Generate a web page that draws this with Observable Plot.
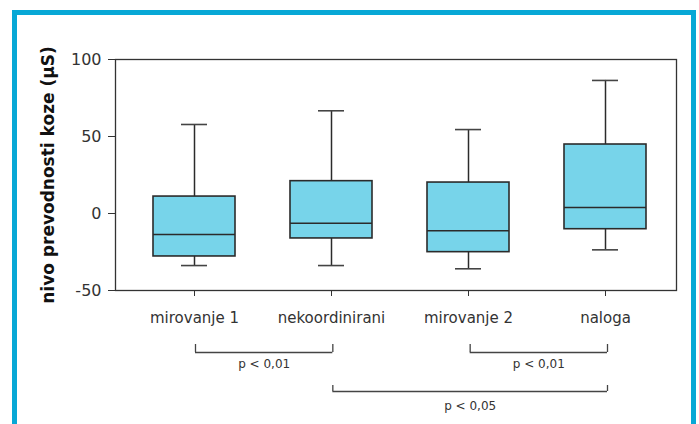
<!DOCTYPE html>
<html>
<head>
<meta charset="utf-8">
<script src="https://cdn.jsdelivr.net/npm/d3@7"></script>
<script src="https://cdn.jsdelivr.net/npm/@observablehq/plot@0.6"></script>
<style>
  html, body { margin: 0; padding: 0; background: #fff; overflow: hidden; }
  #wrap { position: relative; width: 699px; height: 424px; }
  #wrap svg { position: absolute; left: 0; top: 0; }
  #border { position: absolute; left: 12px; top: 10px; width: 684px; height: 430px;
            box-sizing: border-box; border: 5px solid #07a8d6; border-bottom: none; pointer-events: none; }
</style>
</head>
<body>
<div id="wrap"><div id="border"></div></div>
<script>
// ---- data ----
const categories = ["mirovanje 1", "nekoordinirani", "mirovanje 2", "naloga"];
const whiskerLow  = [-33.8, -33.8, -35.9, -23.6];
const quartile1   = [-27.9, -16.2, -25.1, -10.2];
const medians     = [-13.6, -6.3, -11.2, 3.9];
const quartile3   = [11.0, 21.0, 20.1, 44.8];
const whiskerHigh = [57.8, 66.7, 54.5, 86.4];
const yTicks = [-50, 0, 50, 100];
const yLabel = "nivo prevodnosti koze (μS)";

const cmpFrom  = ["mirovanje 1", "mirovanje 2", "nekoordinirani"];
const cmpTo    = ["nekoordinirani", "naloga", "naloga"];
const cmpText  = ["p < 0,01", "p < 0,01", "p < 0,05"];
const cmpRow   = [0, 0, 1];

// ---- tables ----
const boxes = categories.map((c, i) => ({
  cat: c, min: whiskerLow[i], q1: quartile1[i], med: medians[i], q3: quartile3[i], max: whiskerHigh[i]
}));
const idx = c => categories.indexOf(c);
const cmps = cmpFrom.map((f, i) => ({a: idx(f), b: idx(cmpTo[i]), label: cmpText[i], row: cmpRow[i]}));
const ends = cmps.flatMap(d => [{x: d.a, row: d.row}, {x: d.b, row: d.row}]);

const ink = "#2b2b2b";
const font = "DejaVu Sans";

const main = Plot.plot({
  width: 699, height: 424,
  marginLeft: 115, marginRight: 23, marginTop: 59, marginBottom: 134,
  style: {fontFamily: font, background: "transparent", overflow: "visible"},
  x: {domain: categories, range: [97.4, 701.6], padding: 0.4},
  y: {domain: [-50, 100]},
  marks: [
    Plot.frame({stroke: "#333", strokeWidth: 1.3}),
    Plot.ruleX(boxes, {x: "cat", y1: "min", y2: "q1", stroke: ink, strokeWidth: 1.5}),
    Plot.ruleX(boxes, {x: "cat", y1: "q3", y2: "max", stroke: ink, strokeWidth: 1.5}),
    Plot.tickY(boxes, {x: "cat", y: "min", insetLeft: 28, insetRight: 28, stroke: "#444", strokeWidth: 1.6}),
    Plot.tickY(boxes, {x: "cat", y: "max", insetLeft: 28, insetRight: 28, stroke: "#444", strokeWidth: 1.6}),
    Plot.barY(boxes, {x: "cat", y1: "q1", y2: "q3", fill: "#77d4ea", stroke: ink, strokeWidth: 1.6}),
    Plot.tickY(boxes, {x: "cat", y: "med", stroke: ink, strokeWidth: 1.6}),
    Plot.axisY({ticks: yTicks, tickFormat: d => String(d), tickSize: 7, tickPadding: 7, fontSize: 16, color: "#333", label: null}),
    Plot.axisX({tickSize: 6, tickPadding: 16, fontSize: 15, color: "#333", label: null}),
    Plot.text([yLabel], {frameAnchor: "left", text: d => d, rotate: -90, dx: -67, textAnchor: "middle",
      fontSize: 17, fontWeight: "bold", fill: "#111"})
  ]
});

const brackets = Plot.plot({
  width: 699, height: 424,
  margin: 0,
  style: {fontFamily: font, background: "transparent", overflow: "visible"},
  x: {type: "linear", domain: [0, 3], range: [195, 607], axis: null},
  y: {type: "point", domain: [0, 1], range: [351.5, 390.5], padding: 0, axis: null},
  marks: [
    Plot.ruleY(cmps, {y: "row", x1: "a", x2: "b", stroke: "#444", strokeWidth: 1.3}),
    Plot.ruleX(ends.filter(d => d.row === 0), {x: "x", y1: "row", y2: "row", insetBottom: 8, stroke: "#444", strokeWidth: 1.3}),
    Plot.ruleX(ends.filter(d => d.row === 1), {x: "x", y1: "row", y2: "row", insetBottom: 6, stroke: "#444", strokeWidth: 1.3}),
    Plot.text(cmps.filter(d => d.row === 0), {x: d => (d.a + d.b) / 2, y: "row", text: "label", dy: 12, fontSize: 12, fill: "#333"}),
    Plot.text(cmps.filter(d => d.row === 1), {x: d => (d.a + d.b) / 2, y: "row", text: "label", dy: 15, fontSize: 12, fill: "#333"})
  ]
});

const wrap = document.getElementById("wrap");
wrap.insertBefore(brackets, wrap.firstChild);
wrap.insertBefore(main, wrap.firstChild);
</script>
</body>
</html>
